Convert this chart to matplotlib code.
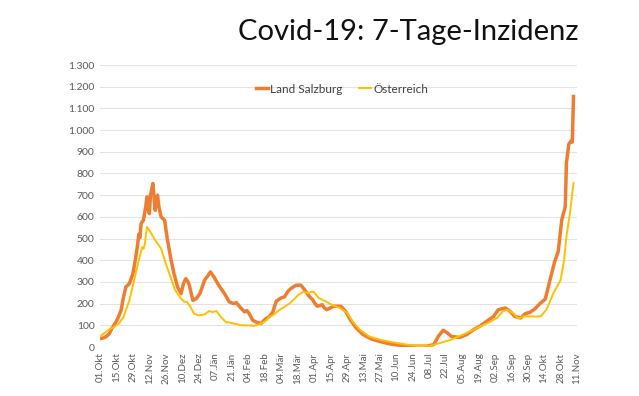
import numpy as np
import matplotlib
matplotlib.use("Agg")
import matplotlib.pyplot as plt

plt.rcParams['font.family'] = ['Lato', 'DejaVu Sans']

# Tage seit 01.10.2020 und Werte der 7-Tage-Inzidenz
salzburg_tag = [0, 3, 5, 8, 10, 13, 15, 18, 20, 22, 25, 28, 30, 32, 33, 34, 35, 37, 39,
                40, 41, 42, 43, 45, 46, 47, 48, 49, 50, 52, 55, 57, 60, 63, 66, 69, 71,
                73, 75, 76, 79, 82, 85, 89, 92, 94, 97, 101, 106, 110, 114, 116, 119,
                123, 125, 127, 130, 133, 137, 141, 144, 147, 150, 154, 157, 160, 163,
                167, 171, 174, 178, 181, 183, 185, 189, 191, 193, 196, 199, 205, 209,
                213, 218, 224, 231, 238, 246, 255, 266, 278, 284, 288, 292, 295, 299,
                306, 312, 318, 323, 329, 335, 339, 345, 349, 353, 358, 362, 366, 370,
                375, 379, 383, 387, 390, 393, 396, 397, 399, 401, 402, 403]
salzburg_wert = [38, 42, 47, 62, 85, 110, 130, 170, 230, 277, 292, 338, 400, 470, 520,
                 505, 570, 585, 650, 692, 640, 615, 700, 754, 690, 630, 680, 700, 650,
                 600, 585, 508, 415, 338, 277, 246, 292, 315, 300, 285, 215, 223, 246,
                 308, 330, 346, 323, 285, 246, 208, 200, 205, 185, 162, 168, 154, 123,
                 115, 108, 130, 140, 160, 211, 226, 231, 257, 272, 285, 285, 265, 234,
                 218, 200, 188, 195, 180, 172, 180, 188, 188, 165, 126, 88, 57, 37, 26,
                 15, 8, 4, 4, 11, 49, 77, 68, 49, 44, 57, 80, 95, 118, 141, 172, 180,
                 165, 141, 134, 154, 160, 175, 203, 221, 309, 394, 440, 586, 647, 849,
                 935, 950, 945, 1155]

oesterreich_tag = [0, 5, 9, 12, 16, 20, 25, 29, 33, 36, 37, 38, 40, 43, 47, 52, 56, 60,
                   64, 69, 72, 74, 77, 80, 84, 89, 93, 96, 99, 103, 107, 111, 116, 121,
                   127, 131, 136, 141, 144, 148, 153, 157, 162, 169, 173, 177, 180, 182,
                   186, 192, 197, 204, 210, 215, 221, 229, 238, 249, 261, 272, 281, 289,
                   298, 309, 321, 329, 338, 343, 347, 352, 356, 360, 366, 375, 380, 386,
                   390, 392, 395, 397, 400, 403]
oesterreich_wert = [50, 69, 85, 92, 108, 138, 215, 308, 400, 461, 453, 470, 554, 530,
                    492, 454, 385, 323, 262, 223, 208, 208, 185, 154, 146, 150, 166, 161,
                    166, 138, 115, 112, 105, 100, 100, 97, 105, 120, 138, 150, 172, 185,
                    203, 241, 254, 249, 255, 254, 226, 211, 195, 180, 160, 118, 80, 49,
                    34, 22, 11, 4, 6, 18, 32, 57, 88, 108, 134, 165, 172, 154, 131, 141,
                    141, 141, 172, 249, 288, 309, 400, 509, 617, 756]

datum_labels = ['01.Okt', '15.Okt', '29.Okt', '12.Nov', '26.Nov', '10.Dez', '24.Dez',
                '07.Jän', '21.Jän', '04.Feb', '18.Feb', '04.Mär', '18.Mär', '01.Apr',
                '15.Apr', '29.Apr', '13.Mai', '27.Mai', '10.Jun', '24.Jun', '08.Jul',
                '22.Jul', '05.Aug', '19.Aug', '02.Sep', '16.Sep', '30.Sep', '14.Okt',
                '28.Okt', '11.Nov']

fig = plt.figure(figsize=(6.39, 3.96), dpi=100)
ax = fig.add_axes([0.1565, 0.1237, 0.7465, 0.7121])

ax.plot(salzburg_tag, salzburg_wert, color='#ED7D31', linewidth=2.5, label='Land Salzburg')
ax.plot(oesterreich_tag, oesterreich_wert, color='#FFC000', linewidth=1.4, label='Österreich')

ticks = np.arange(len(datum_labels)) * 14
ax.set_xlim(0, ticks[-1])
ax.set_xticks(ticks)
ax.set_xticklabels(datum_labels, rotation=90, fontsize=7, color='#595959')

ax.set_ylim(0, 1300)
yt = np.arange(0, 1301, 100)
ax.set_yticks(yt)
ax.set_yticklabels([f"{v:,.0f}".replace(",", ".") for v in yt], fontsize=7.5, color='#595959')

ax.grid(axis='y', color='#e3e3e3', linewidth=0.8)
ax.set_axisbelow(True)
for s in ax.spines.values():
    s.set_visible(False)
ax.tick_params(length=0, pad=4)

ax.legend(loc='center', bbox_to_anchor=(0.535, 0.775), bbox_transform=fig.transFigure,
          ncol=2, frameon=False, fontsize=8.5, handlelength=1.0, handletextpad=0.2,
          columnspacing=1.4, labelcolor='#404040')

fig.text(0.639, 0.919, 'Covid-19: 7-Tage-Inzidenz', ha='center', va='center',
         fontsize=21, color='#111111')

fig.savefig('out.png', dpi=100)
